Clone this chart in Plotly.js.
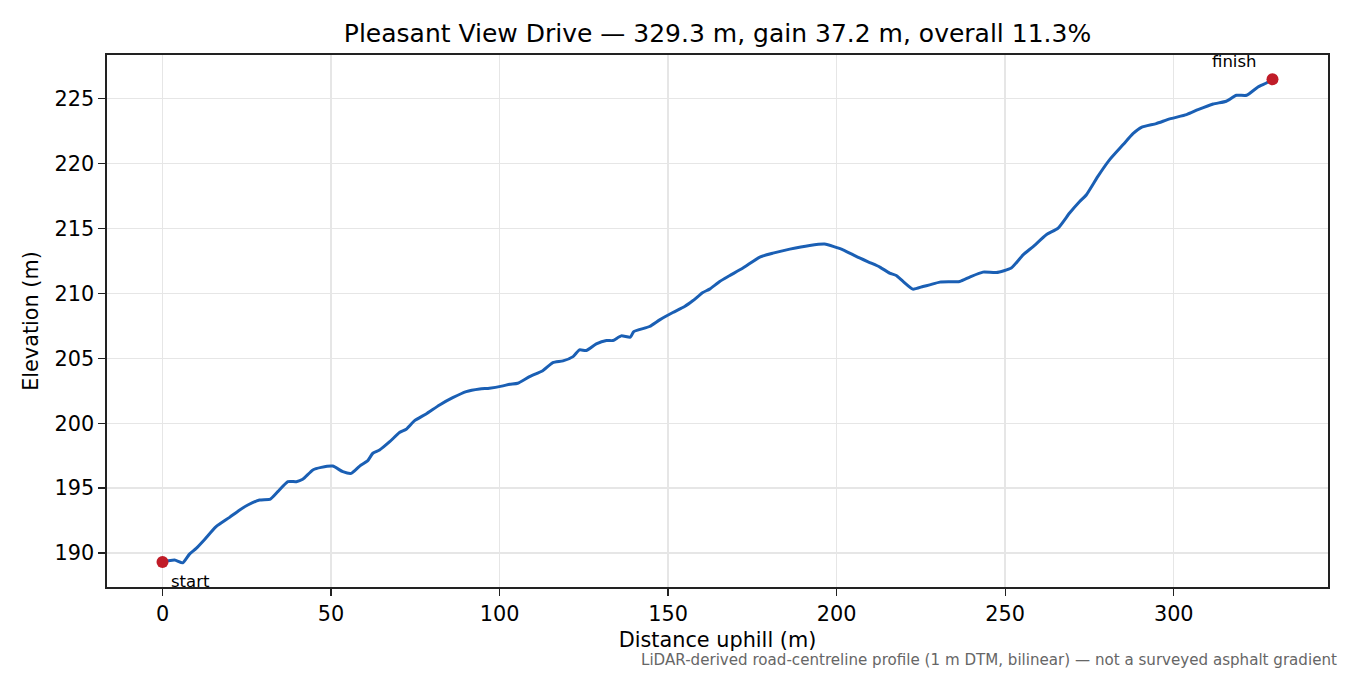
<!DOCTYPE html>
<html>
<head>
<meta charset="utf-8">
<script src="https://cdn.plot.ly/plotly-3.0.1.min.js"></script>
<style>
  html, body { margin: 0; padding: 0; background: #fff; }
  #chart { width: 1350px; height: 675px; }
</style>
</head>
<body>
<div id="chart"></div>
<script>
// profile (distance uphill in m, elevation in m)
var distance = [0, 3.6, 6.0, 8.0, 10.0, 12.5, 15.9, 19.9, 22.8, 25.3,
    28.8, 32.0, 34.2, 37.2, 39.7, 41.6, 44.6, 47.1, 50.5, 53.5,
    56.0, 58.5, 60.9, 62.4, 64.4, 67.4, 70.3, 72.3, 74.8, 78.2,
    82.2, 86.1, 90.1, 94.1, 97.0, 101.0, 103.0, 105.4, 108.9, 112.8,
    115.8, 118.8, 121.8, 123.7, 125.7, 128.7, 131.7, 133.6, 136.1, 138.8,
    139.8, 144.5, 147.5, 151.4, 154.9, 157.4, 160.3, 162.3, 165.3, 168.2,
    172.2, 177.2, 181.1, 186.1, 192.0, 196.4, 201.9, 205.8, 209.8, 212.8,
    215.7, 217.7, 219.7, 222.6, 225.6, 227.6, 230.6, 236.5, 239.5, 243.4,
    247.4, 251.8, 255.3, 258.3, 262.2, 265.7, 269.1, 272.1, 274.1, 277.5,
    281.0, 285.0, 287.9, 290.4, 294.8, 298.8, 303.8, 307.2, 311.7, 315.6,
    318.6, 321.6, 325.0, 327.5, 329.3];

var elevation = [189.31, 189.46, 189.25, 189.92, 190.36, 191.05, 192.03, 192.75, 193.3, 193.7,
    194.09, 194.16, 194.73, 195.5, 195.5, 195.68, 196.4, 196.6, 196.7, 196.27,
    196.14, 196.7, 197.12, 197.69, 197.94, 198.58, 199.28, 199.54, 200.2, 200.72,
    201.41, 201.97, 202.44, 202.64, 202.7, 202.88, 203.0, 203.08, 203.59, 204.05,
    204.67, 204.8, 205.13, 205.65, 205.6, 206.11, 206.37, 206.37, 206.73, 206.63,
    207.06, 207.45, 207.96, 208.53, 208.99, 209.45, 210.07, 210.33, 210.92, 211.36,
    211.95, 212.8, 213.1, 213.41, 213.69, 213.8, 213.36, 212.85, 212.38, 212.03,
    211.57, 211.38, 210.92, 210.33, 210.53, 210.66, 210.87, 210.92, 211.26, 211.64,
    211.61, 211.95, 212.97, 213.61, 214.52, 215.03, 216.19, 217.08, 217.6, 219.01,
    220.3, 221.46, 222.3, 222.79, 223.08, 223.44, 223.77, 224.15, 224.59, 224.8,
    225.26, 225.26, 225.9, 226.21, 226.5];

var endLabels = ['start', 'finish'];
var xTicks = [0, 50, 100, 150, 200, 250, 300];
var yTicks = [190, 195, 200, 205, 210, 215, 220, 225];

var titleText = 'Pleasant View Drive — 329.3 m, gain 37.2 m, overall 11.3%';
var noteText = 'LiDAR-derived road-centreline profile (1 m DTM, bilinear) — not a surveyed asphalt gradient';

var font = 'DejaVu Sans, Liberation Sans, sans-serif';
var last = distance.length - 1;

// matplotlib style 5% padding round the data
function padded(arr) {
    var lo = Math.min.apply(null, arr);
    var hi = Math.max.apply(null, arr);
    var pad = (hi - lo) * 0.05;
    return [lo - pad, hi + pad];
}

var profile = {
    x: distance,
    y: elevation,
    type: 'scatter',
    mode: 'lines',
    line: {color: '#1a5fb4', width: 3, shape: 'spline', smoothing: 0.5},
    hoverinfo: 'x+y'
};

var ends = {
    x: [distance[0], distance[last]],
    y: [elevation[0], elevation[last]],
    type: 'scatter',
    mode: 'markers',
    marker: {color: '#c01c28', size: 12},
    hoverinfo: 'x+y'
};

var axisStyle = {
    showline: true,
    mirror: true,
    linecolor: '#222',
    linewidth: 1.6,
    ticks: 'outside',
    ticklen: 7,
    tickwidth: 1.4,
    tickcolor: '#222',
    showgrid: true,
    gridcolor: '#e6e6e6',
    gridwidth: 1.5,
    zeroline: false,
    tickfont: {family: font, size: 20.8, color: '#000'}
};

var xaxis = Object.assign({}, axisStyle, {
    range: padded(distance),
    tickvals: xTicks,
    title: {text: 'Distance uphill (m)', font: {family: font, size: 20.8, color: '#000'}, standoff: 8}
});

var yaxis = Object.assign({}, axisStyle, {
    range: padded(elevation),
    tickvals: yTicks,
    title: {text: 'Elevation (m)', font: {family: font, size: 20.8, color: '#000'}, standoff: 10}
});

var layout = {
    width: 1350,
    height: 675,
    margin: {l: 107, r: 22, t: 55, b: 88},
    paper_bgcolor: '#fff',
    plot_bgcolor: '#fff',
    showlegend: false,
    title: {
        text: titleText,
        font: {family: font, size: 25, color: '#000'},
        x: (107 + 1328) / 2 / 1350,
        xanchor: 'center',
        y: 1 - 33 / 675,
        yanchor: 'middle'
    },
    xaxis: xaxis,
    yaxis: yaxis,
    annotations: [
        {
            x: distance[0], y: elevation[0], xref: 'x', yref: 'y',
            text: endLabels[0], showarrow: false,
            xanchor: 'left', yanchor: 'top', xshift: 6, yshift: -8,
            font: {family: font, size: 16.5, color: '#000'}
        },
        {
            x: distance[last], y: elevation[last], xref: 'x', yref: 'y',
            text: endLabels[1], showarrow: false,
            xanchor: 'right', yanchor: 'bottom', xshift: -14, yshift: 6,
            font: {family: font, size: 16.5, color: '#000'}
        },
        {
            x: (1339 - 107) / 1221, y: (587 - 660) / 532, xref: 'paper', yref: 'paper',
            text: noteText, showarrow: false,
            xanchor: 'right', yanchor: 'middle',
            font: {family: font, size: 15.1, color: '#666'}
        }
    ]
};

Plotly.newPlot('chart', [profile, ends], layout, {displayModeBar: false, staticPlot: true});
</script>
</body>
</html>
